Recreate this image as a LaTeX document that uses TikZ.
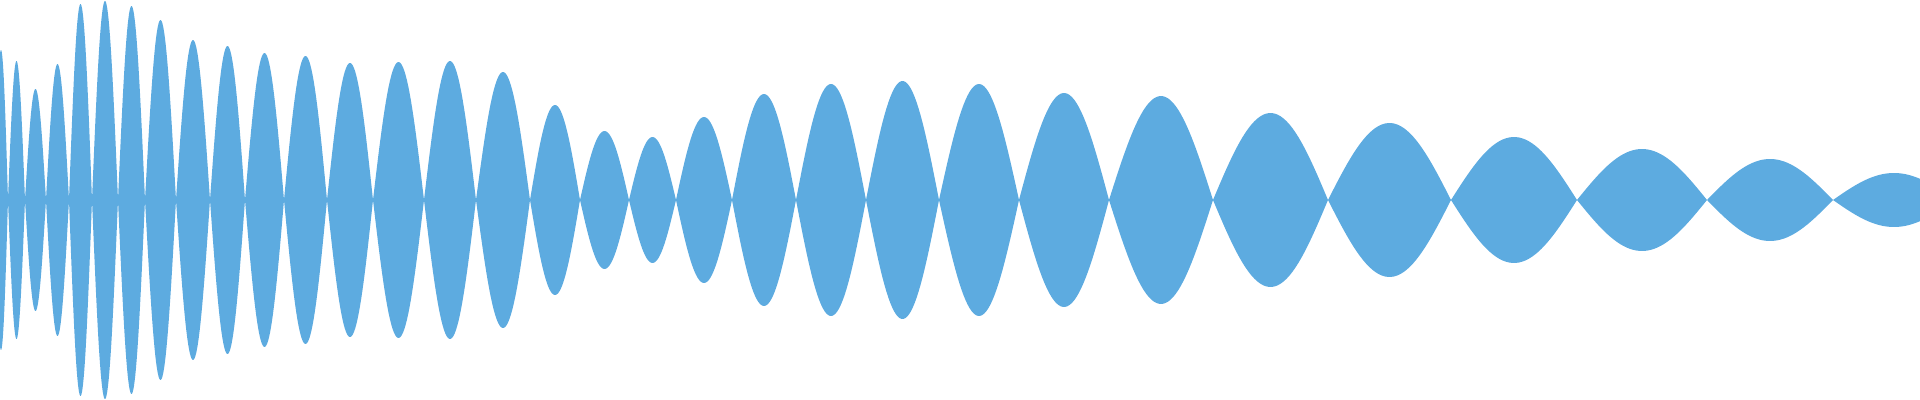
\documentclass[tikz,border=0pt]{standalone}
\usepackage{xcolor}
\usepackage{tikz}
\definecolor{wavefill}{HTML}{5DABE0}

\begin{document}
\begin{tikzpicture}[
        x=0.01cm, y=0.01cm,
        lobe/.style={fill=wavefill, draw=none}
      ]
        % Bounding box and clip
        \useasboundingbox (0,-200) rectangle (1920,200);
        \clip (0,-200) rectangle (1920,200);

        % Lobes: start, end, half height
        \foreach \a/\b/\h in {
            -6/8/150, 8/25/139, 25/46/111, 46/69/136, 69/92/196, 92/118/199,
            118/145/194, 145/176/180, 176/210/160, 210/245/154, 245/284/147,
            284/327/144, 327/373/137, 373/424/138, 424/476/139, 476/530/128,
            530/580/95, 580/629/69, 629/676/63, 676/732/83, 732/796/106,
            796/866/116, 866/939/119, 939/1019/116, 1019/1109/107, 1109/1213/104,
            1213/1328/87, 1328/1451/77, 1451/1577/63, 1577/1707/51,
            1707/1833/41, 1833/1955/27} {
            \fill[lobe] plot[domain=0:180, samples=40] ({\a+(\b-\a)/180*\x}, {\h*sin(\x)})
                -- plot[domain=180:0, samples=40] ({\a+(\b-\a)/180*\x}, {-\h*sin(\x)}) -- cycle;
        }
    \end{tikzpicture}
\end{document}
